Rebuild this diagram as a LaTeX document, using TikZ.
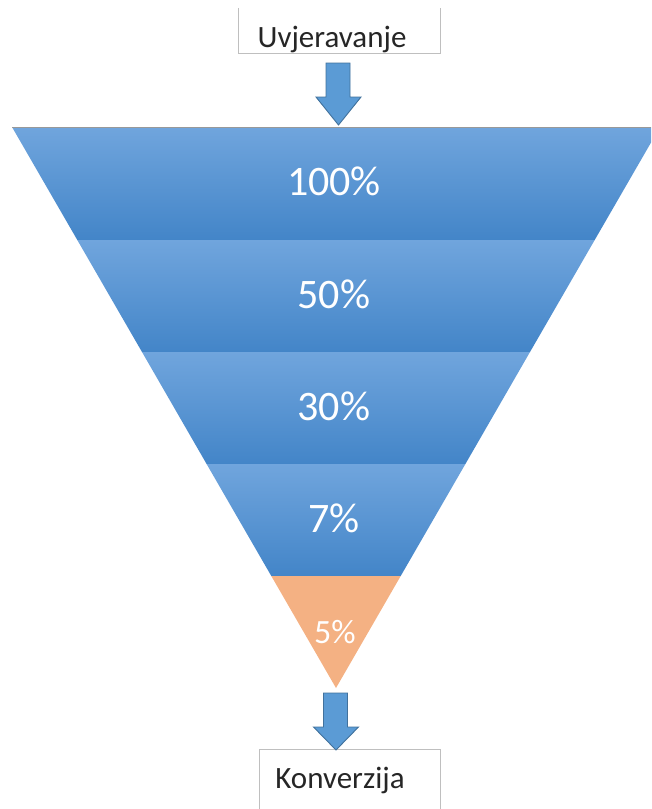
\documentclass[tikz,border=0pt]{standalone}
\usepackage{fontspec}
\setmainfont{Carlito}
\definecolor{bandtop}{RGB}{112,165,221}
\definecolor{bandmid}{RGB}{86,152,218}
\definecolor{bandbot}{RGB}{67,133,200}
\definecolor{orangeband}{RGB}{244,177,131}
\definecolor{arrowfill}{RGB}{91,155,213}
\definecolor{arrowline}{RGB}{65,113,156}
\definecolor{boxline}{RGB}{191,191,191}
\definecolor{labeltext}{RGB}{38,38,38}
\tikzset{
  band/.style={top color=bandtop, middle color=bandmid, bottom color=bandbot, draw=none},
  pct/.style={text=white, anchor=base, inner sep=0pt, font=\fontsize{42}{50}\selectfont},
  blockarrow/.style={fill=arrowfill, draw=arrowline, line width=0.9pt, line join=miter},
  labelbox/.style={draw=none, minimum width=200pt, inner sep=0pt},
  boxtext/.style={text=labeltext, anchor=base, inner sep=0pt, font=\fontsize{31}{37}\selectfont}
}
\begin{document}
\begin{tikzpicture}[x=1pt,y=-1pt]
\useasboundingbox (0,0) rectangle (651,809);
\clip (0,0) rectangle (651,809);
% funnel bands
\shade[band] (12,127) -- (660,127) -- (594.7,240) -- (77.3,240) -- cycle;
\shade[band] (77.3,240) -- (594.7,240) -- (530.0,352) -- (142.0,352) -- cycle;
\shade[band] (142.0,352) -- (530.0,352) -- (465.4,464) -- (206.6,464) -- cycle;
\shade[band] (206.6,464) -- (465.4,464) -- (400.7,576) -- (271.3,576) -- cycle;
\fill[orangeband] (271.3,576) -- (400.7,576) -- (336,688) -- cycle;
\draw[boxline!80!black, line width=0.6pt] (12,127) -- (651,127);
% labels
\node[pct] (p100) at (334,195) {100\%};
\node[pct] (p50) at (334,308) {50\%};
\node[pct] (p30) at (334,420) {30\%};
\node[pct] (p7) at (334,532) {7\%};
\node[pct, font=\fontsize{34}{40}\selectfont] (p5) at (335,643) {5\%};
% top box
\node[labelbox, minimum width=201pt, minimum height=45pt] (topbox) at (339.5,30.5) {};
\draw[boxline, line width=0.8pt] (topbox.north west) |- (topbox.south east) -- (topbox.north east);
\node[boxtext] (toptext) at (332,47) {Uvjeravanje};
% bottom box
\node[labelbox, minimum width=180pt, minimum height=70pt] (botbox) at (350,785) {};
\draw[boxline, line width=0.8pt] (botbox.south west) |- (botbox.north east) -- (botbox.south east);
\node[boxtext] (bottext) at (340,788) {Konverzija};
% arrows
\draw[blockarrow] (326,63) -- (350,63) -- (350,97) -- (361,97) -- (338.5,125) -- (316,97) -- (326,97) -- cycle;
\draw[blockarrow] (323.5,693) -- (347.5,693) -- (347.5,727) -- (358.5,727) -- (336,750) -- (313.5,727) -- (323.5,727) -- cycle;
\end{tikzpicture}
\end{document}
